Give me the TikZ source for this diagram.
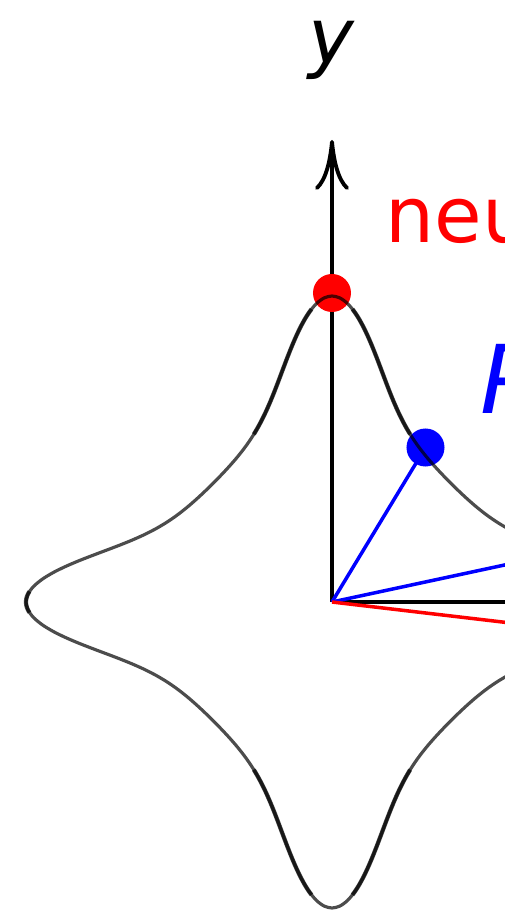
\documentclass[tikz,border=0pt]{standalone}
\usepackage{fontspec}
\setmainfont{DejaVu Sans}
\usetikzlibrary{arrows.meta, positioning}

\begin{document}
\begin{tikzpicture}[
    declare function={rr(\t)=1.335+1.725/(1+4*sin(2*\t)*sin(2*\t));},
    axis/.style={line width=1.1pt, -{Computer Modern Rightarrow[length=0.5cm, width=0.34cm]}},
    curve/.style={draw=black, draw opacity=0.7, line width=0.9pt},
    overlap/.style={curve, line width=1.2pt},
    dot/.style={circle, inner sep=0pt, minimum size=0.38cm},
    ray/.style={line width=1pt},
    lab/.style={inner sep=0pt, font=\fontsize{22}{26}\selectfont}
]
    \useasboundingbox (-3.32,-3.13) rectangle (1.72,6.02);

    % Origin and end points
    \coordinate (O) at (0,0);
    \coordinate (ytip) at (0,4.62);
    \coordinate (xtip) at (3.6,0);
    \coordinate (A) at (12.1:{rr(12.1)});
    \coordinate (B) at (-6.7:{rr(-6.7)});

    % Axes
    \draw[axis] (O) -- (ytip);
    \draw[axis] (O) -- (xtip);
    \node[lab, anchor=base] (ylab) at (0,5.38) {\textit{y}};

    % Rays
    \draw[ray, blue] (O) -- (0.935,1.545);
    \draw[ray, blue] (O) -- (A);
    \draw[ray, red] (O) -- (B);

    % Points
    \node[dot, fill=red] (N) at (0,3.09) {};
    \node[dot, fill=blue] (P) at (0.935,1.545) {};
    \node[lab, red, anchor=base west] (neulab) at (0.53,3.59) {neu};
    \node[lab, blue, anchor=base west, font=\fontsize{27}{32}\selectfont] (Plab) at (1.48,1.89) {\textit{P}};

    % Curve
    \draw[curve] plot[domain=0:360, samples=241, smooth] (\x:{rr(\x)});
    \foreach \a/\b in {65/86, 94/115, 245/266, 274/295, 178/182}
        \draw[overlap] plot[domain=\a:\b, samples=30, smooth] (\x:{rr(\x)});

\end{tikzpicture}
\end{document}
